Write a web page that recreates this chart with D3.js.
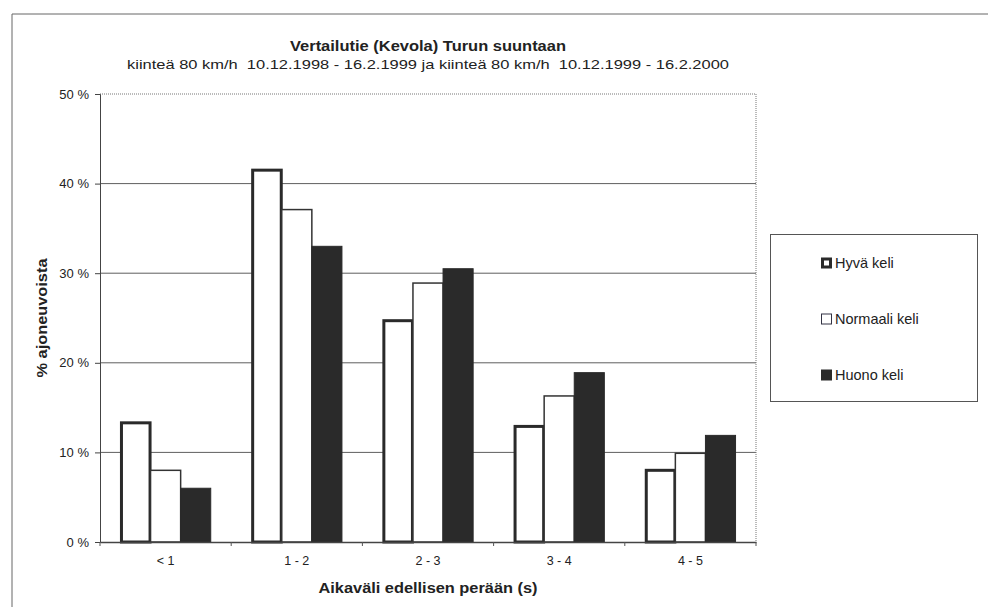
<!DOCTYPE html>
<html>
<head>
<meta charset="utf-8">
<script src="https://cdn.jsdelivr.net/npm/d3@7"></script>
<style>
  body { margin: 0; background: #fff; }
  text { font-family: "Liberation Sans", Arial, sans-serif; fill: #222; white-space: pre; }
</style>
</head>
<body>
<div id="chart"></div>
<script>
// data
var categories = ["< 1", "1 - 2", "2 - 3", "3 - 4", "4 - 5"];
var seriesNames = ["Hyvä keli", "Normaali keli", "Huono keli"];
var hyva = [13.3, 41.5, 24.7, 12.9, 8.0];
var normaali = [8.0, 37.1, 28.9, 16.3, 9.9];
var huono = [6.0, 33.0, 30.5, 18.9, 11.9];
var yTicks = [0, 10, 20, 30, 40, 50];

var series = [hyva, normaali, huono];

var W = 988, H = 607;
var plot = { left: 100, right: 756, top: 94, bottom: 542 };

// style per series
var fills = ["#fff", "#fff", "#2a2a2a"];
var strokes = ["#2a2a2a", "#333", "#2a2a2a"];
var strokeW = [3, 1.5, 1];

var svg = d3.select("#chart").append("svg")
    .attr("width", W)
    .attr("height", H);

// outer frame (top + left only visible)
svg.append("path")
    .attr("d", "M12," + H + "V14H" + W)
    .attr("fill", "none")
    .attr("stroke", "#666")
    .attr("stroke-width", 1);

//--------------------------scales----------------------------//
var x = d3.scaleBand().domain(categories).range([plot.left, plot.right]);
var xInner = d3.scaleBand().domain(d3.range(series.length))
    .range([0, x.bandwidth()]).paddingOuter(0.68).paddingInner(0);
var y = d3.scaleLinear().domain([0, 50]).range([plot.bottom, plot.top]);

//--------------------------grid------------------------------//
svg.append("g").selectAll("line")
    .data(yTicks.filter(function(d){ return d > 0 && d < 50; }))
    .enter().append("line")
    .attr("x1", plot.left).attr("x2", plot.right)
    .attr("y1", function(d){ return y(d); })
    .attr("y2", function(d){ return y(d); })
    .attr("stroke", "#5e5e5e")
    .attr("stroke-width", 1);

// plot frame top/right (dotted grey)
svg.append("path")
    .attr("d", "M" + plot.left + "," + plot.top + "H" + plot.right + "V" + plot.bottom)
    .attr("fill", "none")
    .attr("stroke", "#777")
    .attr("stroke-width", 1)
    .attr("stroke-dasharray", "1,1");

//--------------------------bars------------------------------//
series.forEach(function(vals, si) {
    svg.append("g").selectAll("rect")
        .data(vals)
        .enter().append("rect")
        .attr("x", function(d, i){ return x(categories[i]) + xInner(si) + (si === 0 ? 1 : 0); })
        .attr("y", function(d){ return y(d); })
        .attr("width", xInner.bandwidth() - (si === 0 ? 1.5 : 0))
        .attr("height", function(d){ return y(0) - y(d); })
        .attr("fill", fills[si])
        .attr("stroke", strokes[si])
        .attr("stroke-width", strokeW[si]);
});

//--------------------------axes------------------------------//
var yAxis = d3.axisLeft(y)
    .tickValues(yTicks)
    .tickSize(5)
    .tickFormat(function(d){ return d + " %"; });

svg.append("g")
    .attr("transform", "translate(" + plot.left + ",0)")
    .call(yAxis)
    .call(function(g){
        g.select(".domain").attr("stroke", "#444");
        g.selectAll(".tick line").attr("stroke", "#444");
        g.selectAll(".tick text")
            .attr("x", -11)
            .style("font-size", "13px")
            .style("font-family", "'Liberation Sans', Arial, sans-serif")
            .attr("fill", "#333");
    });

var xAxis = d3.axisBottom(x).tickSize(0).tickPadding(14);

svg.append("g")
    .attr("transform", "translate(0," + plot.bottom + ")")
    .call(xAxis)
    .call(function(g){
        g.select(".domain").attr("stroke", "#444").attr("stroke-width", 1.5);
        g.selectAll(".tick text")
            .style("font-size", "12.5px")
            .style("font-family", "'Liberation Sans', Arial, sans-serif")
            .attr("fill", "#333");
    });

// tick marks between categories
svg.append("g").selectAll("line")
    .data(categories.concat(["end"]))
    .enter().append("line")
    .attr("x1", function(d, i){ return plot.left + i * x.step(); })
    .attr("x2", function(d, i){ return plot.left + i * x.step(); })
    .attr("y1", plot.bottom)
    .attr("y2", plot.bottom + 4)
    .attr("stroke", "#555");

//--------------------------titles----------------------------//
var cx = (plot.left + plot.right) / 2;

svg.append("text")
    .attr("x", cx).attr("y", 51)
    .attr("text-anchor", "middle")
    .attr("textLength", 276)
    .attr("lengthAdjust", "spacingAndGlyphs")
    .style("font-size", "14px")
    .style("font-weight", "bold")
    .text("Vertailutie (Kevola) Turun suuntaan");

svg.append("text")
    .attr("x", cx).attr("y", 69)
    .attr("text-anchor", "middle")
    .attr("textLength", 602)
    .attr("lengthAdjust", "spacingAndGlyphs")
    .style("font-size", "13.5px")
    .text("kiinteä 80 km/h  10.12.1998 - 16.2.1999 ja kiinteä 80 km/h  10.12.1999 - 16.2.2000");

svg.append("text")
    .attr("x", cx).attr("y", 593)
    .attr("text-anchor", "middle")
    .attr("textLength", 219)
    .attr("lengthAdjust", "spacingAndGlyphs")
    .style("font-size", "14px")
    .style("font-weight", "bold")
    .text("Aikaväli edellisen perään (s)");

svg.append("text")
    .attr("transform", "translate(47,318) rotate(-90)")
    .attr("text-anchor", "middle")
    .attr("textLength", 119)
    .attr("lengthAdjust", "spacingAndGlyphs")
    .style("font-size", "14px")
    .style("font-weight", "bold")
    .text("% ajoneuvoista");

//--------------------------legend----------------------------//
var legend = svg.append("g");
legend.append("rect")
    .attr("x", 770.5).attr("y", 234.5)
    .attr("width", 207).attr("height", 167)
    .attr("fill", "#fff")
    .attr("stroke", "#555");

var ly = d3.scalePoint().domain(seriesNames).range([263, 375]);

var items = legend.selectAll(".item")
    .data(seriesNames)
    .enter().append("g")
    .attr("class", "item")
    .attr("transform", function(d){ return "translate(821," + ly(d) + ")"; });

items.append("rect")
    .attr("x", function(d, i){ return i === 0 ? 1.5 : 0.5; })
    .attr("y", function(d, i){ return i === 0 ? -4 : -5; })
    .attr("width", function(d, i){ return i === 0 ? 8 : 10; })
    .attr("height", function(d, i){ return i === 0 ? 8 : 10; })
    .attr("fill", function(d, i){ return fills[i]; })
    .attr("stroke", function(d, i){ return i === 1 ? "#334" : strokes[i]; })
    .attr("stroke-width", function(d, i){ return i === 0 ? 3 : 1; });

items.append("text")
    .attr("x", 14)
    .attr("y", 5)
    .style("font-size", "14.5px")
    .text(function(d){ return d; });
</script>
</body>
</html>
